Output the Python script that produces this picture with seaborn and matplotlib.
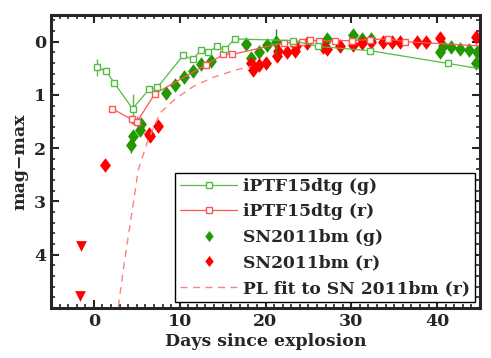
import numpy as np
import pandas as pd
import seaborn as sns
import matplotlib
matplotlib.use("Agg")
import matplotlib.pyplot as plt
from matplotlib.lines import Line2D
from matplotlib.ticker import MultipleLocator

# iPTF15dtg g (open squares, joined)
g_days = [0.4, 1.45, 2.4, 4.5, 6.45, 7.4, 10.4, 11.5, 12.5, 13.3, 14.3, 15.3, 16.4, 23.2, 26.1, 32.2, 41.3, 46.5]
g_mags = [0.48, 0.56, 0.78, 1.26, 0.89, 0.86, 0.26, 0.33, 0.16, 0.2, 0.09, 0.14, -0.05, -0.02, 0.09, 0.17, 0.41, 0.55]
g_err = [0.16, 0, 0, 0.28, 0, 0, 0, 0, 0, 0, 0, 0, 0, 0, 0, 0, 0, 0]

# iPTF15dtg r
r_days = [2.15, 4.4, 5.05, 7.1, 13.1, 15.1, 16.1, 22.2, 23.2, 24.2, 25.2, 26.2, 28.1, 30.1, 32.2, 34.3, 36.3, 47.0]
r_mags = [1.26, 1.46, 1.5, 0.98, 0.43, 0.24, 0.24, 0.02, 0.02, 0.01, -0.03, -0.01, -0.02, -0.02, -0.04, -0.05, 0.0, 0.1]
r_err = [0, 0.08, 0.1, 0, 0, 0, 0, 0, 0, 0, 0, 0, 0, 0, 0, 0, 0, 0]

# SN2011bm g (filled diamonds)
bm_g_days = [4.3, 4.5, 5.4, 5.5, 8.4, 9.45, 10.5, 11.55, 12.5, 13.6, 17.7, 18.3, 19.3, 20.2, 21.2,
             27.2, 30.2, 31.3, 32.3, 40.3, 40.7, 41.6, 42.7, 43.7, 44.7, 44.5]
bm_g_mags = [1.94, 1.78, 1.66, 1.54, 0.97, 0.81, 0.67, 0.55, 0.42, 0.36, 0.04, 0.3, 0.2, 0.06, 0.01,
             -0.05, -0.12, -0.05, -0.05, 0.19, 0.09, 0.11, 0.14, 0.16, 0.19, 0.41]
bm_g_err = [0.15, 0, 0, 0, 0, 0, 0, 0, 0, 0, 0, 0.05, 0.08, 0, 0.25,
            0, 0, 0, 0, 0, 0, 0, 0, 0, 0, 0]

# SN2011bm r
bm_r_days = [1.3, 6.45, 6.55, 7.5, 18.3, 18.5, 19.3, 20.1, 21.3, 21.5, 22.5, 23.4, 23.5, 24.8, 26.7, 27.2,
             28.7, 30.2, 31.3, 32.3, 33.7, 34.7, 35.7, 37.7, 38.7, 40.3, 44.5]
bm_r_mags = [2.31, 1.73, 1.78, 1.58, 0.4, 0.53, 0.43, 0.41, 0.27, 0.18, 0.2, 0.17, 0.08, 0.03, 0.1, 0.14,
             0.08, 0.06, 0.02, 0.01, 0.01, 0.0, 0.01, 0.01, 0.0, -0.07, -0.09]
bm_r_err = [0, 0, 0, 0, 0.1, 0.1, 0.1, 0.06, 0.1, 0, 0, 0, 0, 0, 0, 0,
            0, 0, 0, 0, 0, 0, 0, 0, 0, 0, 0]

# upper limits (r)
ul_days = [-1.5, -1.6]
ul_mags = [3.83, 4.78]

# PL fit curve
pl_days = [2.85, 3.43, 4.0, 4.6, 5.17, 6.2, 7.7, 9.3, 11.6, 13.9, 16.6, 18.5]
pl_mags = [4.97, 4.28, 3.66, 3.03, 2.41, 1.9, 1.34, 1.1, 0.84, 0.67, 0.53, 0.46]

c_gline = "#55bb44"
c_rline = "#ff5555"
c_gdia = "#229900"
c_rdia = "#ff0000"
c_pl = "#ff8080"

sns.set_style("ticks")
plt.rcParams["font.family"] = ["DejaVu Serif"]
plt.rcParams["font.weight"] = "bold"
plt.rcParams["axes.labelweight"] = "bold"
plt.rcParams["xtick.direction"] = "in"
plt.rcParams["ytick.direction"] = "in"
plt.rcParams["xtick.top"] = True
plt.rcParams["ytick.right"] = True

fig = plt.figure(figsize=(4.91, 3.58), dpi=100)
ax = fig.add_axes([51 / 491, 1 - 308 / 358, 429 / 491, 293 / 358])

diamond = [(0, 1), (0.75, 0), (0, -1), (-0.75, 0), (0, 1)]

df_g = pd.DataFrame({"day": g_days, "mag": g_mags})
df_r = pd.DataFrame({"day": r_days, "mag": r_mags})
df_bg = pd.DataFrame({"day": bm_g_days, "mag": bm_g_mags})
df_br = pd.DataFrame({"day": bm_r_days, "mag": bm_r_mags})
df_pl = pd.DataFrame({"day": pl_days, "mag": pl_mags})
df_ul = pd.DataFrame({"day": ul_days, "mag": ul_mags})

sns.lineplot(data=df_pl, x="day", y="mag", ax=ax, color=c_pl, lw=1.0, linestyle=(0, (5, 4)),
             sort=False, estimator=None)

ax.errorbar(g_days, g_mags, yerr=g_err, fmt="none", ecolor=c_gline, elinewidth=1.0, capsize=0)
ax.errorbar(r_days, r_mags, yerr=r_err, fmt="none", ecolor=c_rline, elinewidth=1.0, capsize=0)
ax.errorbar(bm_g_days, bm_g_mags, yerr=bm_g_err, fmt="none", ecolor=c_gdia, elinewidth=1.0, capsize=0)
ax.errorbar(bm_r_days, bm_r_mags, yerr=bm_r_err, fmt="none", ecolor=c_rdia, elinewidth=1.0, capsize=0)

sns.lineplot(data=df_r, x="day", y="mag", ax=ax, color=c_rline, lw=0.9, marker="s", markersize=5,
             markerfacecolor="white", markeredgecolor=c_rline, markeredgewidth=1.0,
             sort=False, estimator=None)
sns.lineplot(data=df_g, x="day", y="mag", ax=ax, color=c_gline, lw=0.9, marker="s", markersize=5,
             markerfacecolor="white", markeredgecolor=c_gline, markeredgewidth=1.0,
             sort=False, estimator=None)

sns.scatterplot(data=df_bg, x="day", y="mag", ax=ax, color=c_gdia, marker=diamond, s=110, linewidth=0)
sns.scatterplot(data=df_br, x="day", y="mag", ax=ax, color=c_rdia, marker=diamond, s=110, linewidth=0)
sns.scatterplot(data=df_ul, x="day", y="mag", ax=ax, color=c_rdia, marker="v", s=60, linewidth=0)

ax.set_xlim(-5, 45)
ax.set_ylim(5, -0.5)
ax.xaxis.set_major_locator(MultipleLocator(10))
ax.xaxis.set_minor_locator(MultipleLocator(1))
ax.yaxis.set_minor_locator(MultipleLocator(0.2))
ax.set_yticks([0, 1, 2, 3, 4])
ax.tick_params(which="major", length=6, width=1.5, labelsize=12.5)
ax.tick_params(which="minor", length=3, width=1.2)
for sp in ax.spines.values():
    sp.set_linewidth(2.2)
    sp.set_visible(True)
ax.set_xlabel("Days since explosion", fontsize=12.5, labelpad=2)
ax.set_ylabel("mag\u2212max", fontsize=12.5, labelpad=4)

handles = [
    Line2D([], [], color=c_gline, lw=0.9, marker="s", markersize=4.5, mfc="white", mec=c_gline),
    Line2D([], [], color=c_rline, lw=0.9, marker="s", markersize=4.5, mfc="white", mec=c_rline),
    Line2D([], [], color=c_gdia, lw=0, marker=diamond, markersize=8, mew=0),
    Line2D([], [], color=c_rdia, lw=0, marker=diamond, markersize=8, mew=0),
    Line2D([], [], color=c_pl, lw=1.0, ls=(0, (5, 4))),
]
labels = ["iPTF15dtg (g)", "iPTF15dtg (r)", "SN2011bm (g)", "SN2011bm (r)", "PL fit to SN 2011bm (r)"]
leg = ax.legend(handles, labels, loc="lower right", bbox_to_anchor=(0.988, 0.02), fontsize=12.3,
                frameon=True, fancybox=False, edgecolor="black", framealpha=1,
                handlelength=3.3, handletextpad=0.35, labelspacing=0.5, borderpad=0.3, borderaxespad=0)
leg.get_frame().set_linewidth(1.0)

fig.savefig("out.png", dpi=100)
